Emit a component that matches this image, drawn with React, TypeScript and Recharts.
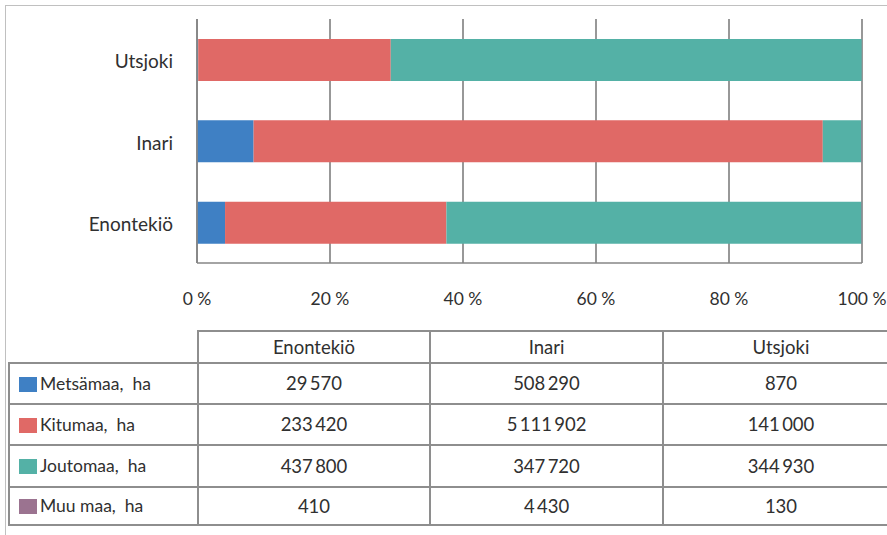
import React from 'react'
import { BarChart, Bar, XAxis, YAxis, CartesianGrid } from 'recharts'

// Kunnat (taulukon järjestyksessä)
const municipalities = ['Enontekiö', 'Inari', 'Utsjoki']

// Maaluokat
const seriesNames = ['Metsämaa,  ha', 'Kitumaa,  ha', 'Joutomaa,  ha', 'Muu maa,  ha']
const seriesKeys = ['metsa', 'kitu', 'jouto', 'muu']
const seriesColors = ['#3f80c4', '#e06966', '#54b1a6', '#9b7390']

// Arvot hehtaareina, kunta kerrallaan
const metsamaa = [29570, 508290, 870]
const kitumaa = [233420, 5111902, 141000]
const joutomaa = [437800, 347720, 344930]
const muumaa = [410, 4430, 130]

const percentTicks = [0, 0.2, 0.4, 0.6, 0.8, 1]

const seriesValues = [metsamaa, kitumaa, joutomaa, muumaa]

const data = municipalities.map((name, i) => ({
  name,
  metsa: metsamaa[i],
  kitu: kitumaa[i],
  jouto: joutomaa[i],
  muu: muumaa[i],
}))

const FONT = 'Lato, "Open Sans", sans-serif'
const TEXT = '#303030'
const GRID = '#868686'
const LINE = '2px solid #8e8e8e'

const fmt = (v: number) => String(v).replace(/\B(?=(\d{3})+(?!\d))/g, '\u2009')

const XTick = ({ x, y, payload }: any) => (
  <text x={x} y={y + 35} textAnchor="middle" dominantBaseline="central" fontSize={17.5} fill={TEXT} fontFamily={FONT}>
    {`${Math.round(payload.value * 100)}\u00a0%`}
  </text>
)

const YTick = ({ x, y, payload }: any) => (
  <text x={x - 24} y={y + 1} textAnchor="end" dominantBaseline="central" fontSize={19} fill={TEXT} fontFamily={FONT}>
    {payload.value}
  </text>
)

const rowHeights = [41, 41.5, 41.5, 38.5]

export default function App() {
  const cell: React.CSSProperties = {
    border: LINE,
    textAlign: 'center',
    padding: 0,
    fontSize: 18.5,
    color: TEXT,
  }
  return (
    <div style={{ position: 'absolute', left: 0, top: 0, width: 887, height: 535, overflow: 'hidden', background: '#fff', fontFamily: FONT }}>
      {/* ulkokehys */}
      <div style={{ position: 'absolute', left: 5, top: 5, width: 900, height: 600, borderTop: '1.5px solid #c0c0c0', borderLeft: '1.5px solid #c0c0c0' }} />

      <div style={{ position: 'absolute', left: 0, top: 0 }}>
        <BarChart
          width={887}
          height={330}
          data={data}
          layout="vertical"
          stackOffset="expand"
          barSize={42}
          margin={{ top: 19, right: 25, left: 0, bottom: 0 }}
        >
          <CartesianGrid horizontal={false} stroke={GRID} strokeWidth={1.7} />
          <XAxis
            type="number"
            domain={[0, 1]}
            ticks={percentTicks}
            tick={<XTick />}
            tickLine={false}
            tickSize={0}
            tickMargin={0}
            height={67}
            axisLine={{ stroke: GRID, strokeWidth: 1.7 }}
          />
          <YAxis
            type="category"
            dataKey="name"
            reversed
            width={197}
            tick={<YTick />}
            tickLine={false}
            tickSize={0}
            tickMargin={0}
            axisLine={{ stroke: GRID, strokeWidth: 1.7 }}
          />
          {seriesKeys.map((k, i) => (
            <Bar key={k} dataKey={k} stackId="a" fill={seriesColors[i]} isAnimationActive={false} />
          ))}
        </BarChart>
      </div>

      {/* datataulukko */}
      <table
        style={{
          position: 'absolute',
          left: 8,
          top: 330,
          borderCollapse: 'collapse',
          tableLayout: 'fixed',
          width: 890,
          fontFamily: FONT,
        }}
      >
        <colgroup>
          <col style={{ width: 189 }} />
          <col style={{ width: 232 }} />
          <col style={{ width: 233 }} />
          <col style={{ width: 236 }} />
        </colgroup>
        <tbody>
          <tr style={{ height: 31.5 }}>
            <td style={{ ...cell, borderTop: 'none', borderLeft: 'none' }} />
            {municipalities.map((m) => (
              <td key={m} style={cell}>{m}</td>
            ))}
          </tr>
          {seriesNames.map((s, i) => (
            <tr key={s} style={{ height: rowHeights[i] }}>
              <td style={{ ...cell, fontSize: 17.5, textAlign: 'left', whiteSpace: 'pre' }}>
                <span
                  style={{
                    display: 'inline-block',
                    width: 18,
                    height: 15,
                    background: seriesColors[i],
                    marginLeft: 9,
                    marginRight: 3,
                    verticalAlign: -2,
                  }}
                />
                {s}
              </td>
              {seriesValues[i].map((v, j) => (
                <td key={j} style={cell}>{fmt(v)}</td>
              ))}
            </tr>
          ))}
        </tbody>
      </table>
    </div>
  )
}
